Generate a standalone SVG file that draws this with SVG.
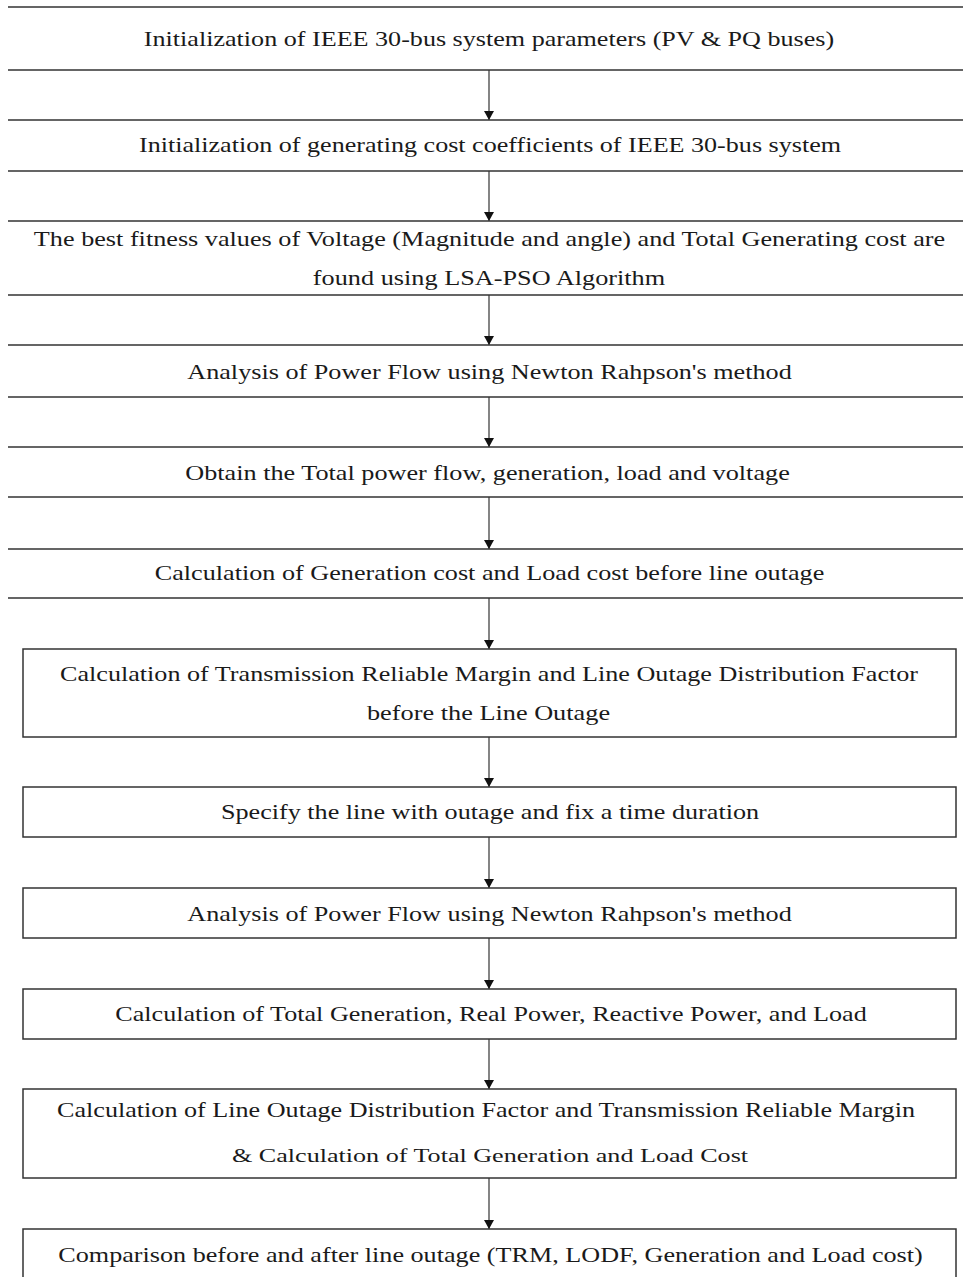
<svg xmlns="http://www.w3.org/2000/svg" width="963" height="1277" viewBox="0 0 963 1277">
<style>
.bg{fill:#ffffff}
.band{stroke:#333;stroke-width:1.5;fill:none}
.box{stroke:#333;stroke-width:1.5;fill:#ffffff}
.t{font-family:"Liberation Serif","Times New Roman",serif;font-size:20px;fill:#1a1a1a;text-anchor:middle}
.ts{font-size:18px}
.c{stroke:#333;stroke-width:1.2;fill:none;marker-end:url(#ah)}
</style>
<defs>
<marker id="ah" markerUnits="userSpaceOnUse" markerWidth="10" markerHeight="10" refX="9" refY="5" orient="auto" viewBox="0 0 10 10">
<path d="M0,0 L9,5 L0,10 Z" fill="#111"/>
</marker>
</defs>
<rect class="bg" x="0" y="0" width="963" height="1277"/>
<g id="connectors">
<line class="c" x1="489" y1="70" x2="489" y2="120"/>
<line class="c" x1="489" y1="171" x2="489" y2="221"/>
<line class="c" x1="489" y1="295" x2="489" y2="345"/>
<line class="c" x1="489" y1="397" x2="489" y2="447"/>
<line class="c" x1="489" y1="497" x2="489" y2="549"/>
<line class="c" x1="489" y1="598" x2="489" y2="649"/>
<line class="c" x1="489" y1="737" x2="489" y2="787"/>
<line class="c" x1="489" y1="837" x2="489" y2="888"/>
<line class="c" x1="489" y1="938" x2="489" y2="989"/>
<line class="c" x1="489" y1="1039" x2="489" y2="1089"/>
<line class="c" x1="489" y1="1178" x2="489" y2="1229"/>
</g>
<g id="n1">
<path class="band" d="M8,7 H963 M8,70 H963"/>
<text class="t" transform="translate(489,46) scale(1.3,1)" textLength="531" lengthAdjust="spacingAndGlyphs">Initialization of IEEE 30-bus system parameters (PV &amp; PQ buses)</text>
</g>
<g id="n2">
<path class="band" d="M8,120 H963 M8,171 H963"/>
<text class="t" transform="translate(490,152) scale(1.3,1)" textLength="540" lengthAdjust="spacingAndGlyphs">Initialization of generating cost coefficients of IEEE 30-bus system</text>
</g>
<g id="n3">
<path class="band" d="M8,221 H963 M8,295 H963"/>
<text class="t" transform="translate(489.5,246) scale(1.3,1)" textLength="701" lengthAdjust="spacingAndGlyphs">The best fitness values of Voltage (Magnitude and angle) and Total Generating cost are</text>
<text class="t" transform="translate(489,285) scale(1.3,1)" textLength="271" lengthAdjust="spacingAndGlyphs">found using LSA-PSO Algorithm</text>
</g>
<g id="n4">
<path class="band" d="M8,345 H963 M8,397 H963"/>
<text class="t" transform="translate(489.5,379) scale(1.3,1)" textLength="465" lengthAdjust="spacingAndGlyphs">Analysis of Power Flow using Newton Rahpson's method</text>
</g>
<g id="n5">
<path class="band" d="M8,447 H963 M8,497 H963"/>
<text class="t" transform="translate(487.5,480) scale(1.3,1)" textLength="465" lengthAdjust="spacingAndGlyphs">Obtain the Total power flow, generation, load and voltage</text>
</g>
<g id="n6">
<path class="band" d="M8,549 H963 M8,598 H963"/>
<text class="t" transform="translate(489.5,580) scale(1.3,1)" textLength="515" lengthAdjust="spacingAndGlyphs">Calculation of Generation cost and Load cost before line outage</text>
</g>
<g id="n7">
<rect class="box" x="23" y="649" width="933" height="88"/>
<text class="t" transform="translate(489,681) scale(1.3,1)" textLength="660" lengthAdjust="spacingAndGlyphs">Calculation of Transmission Reliable Margin and Line Outage Distribution Factor</text>
<text class="t" transform="translate(488.5,720) scale(1.3,1)" textLength="187" lengthAdjust="spacingAndGlyphs">before the Line Outage</text>
</g>
<g id="n8">
<rect class="box" x="23" y="787" width="933" height="50"/>
<text class="t" transform="translate(490,819) scale(1.3,1)" textLength="414" lengthAdjust="spacingAndGlyphs">Specify the line with outage and fix a time duration</text>
</g>
<g id="n9">
<rect class="box" x="23" y="888" width="933" height="50"/>
<text class="t" transform="translate(489.5,921) scale(1.3,1)" textLength="465" lengthAdjust="spacingAndGlyphs">Analysis of Power Flow using Newton Rahpson's method</text>
</g>
<g id="n10">
<rect class="box" x="23" y="989" width="933" height="50"/>
<text class="t" transform="translate(491,1021) scale(1.3,1)" textLength="578" lengthAdjust="spacingAndGlyphs">Calculation of Total Generation, Real Power, Reactive Power, and Load</text>
</g>
<g id="n11">
<rect class="box" x="23" y="1089" width="933" height="89"/>
<text class="t" transform="translate(486,1117) scale(1.3,1)" textLength="660" lengthAdjust="spacingAndGlyphs">Calculation of Line Outage Distribution Factor and Transmission Reliable Margin</text>
<text class="t ts" transform="translate(490,1162) scale(1.3,1)" textLength="397" lengthAdjust="spacingAndGlyphs">&amp; Calculation of Total Generation and Load Cost</text>
</g>
<g id="n12">
<rect class="box" x="23" y="1229" width="933" height="70"/>
<text class="t" transform="translate(490.5,1262) scale(1.3,1)" textLength="665" lengthAdjust="spacingAndGlyphs">Comparison before and after line outage (TRM, LODF, Generation and Load cost)</text>
</g>
</svg>
